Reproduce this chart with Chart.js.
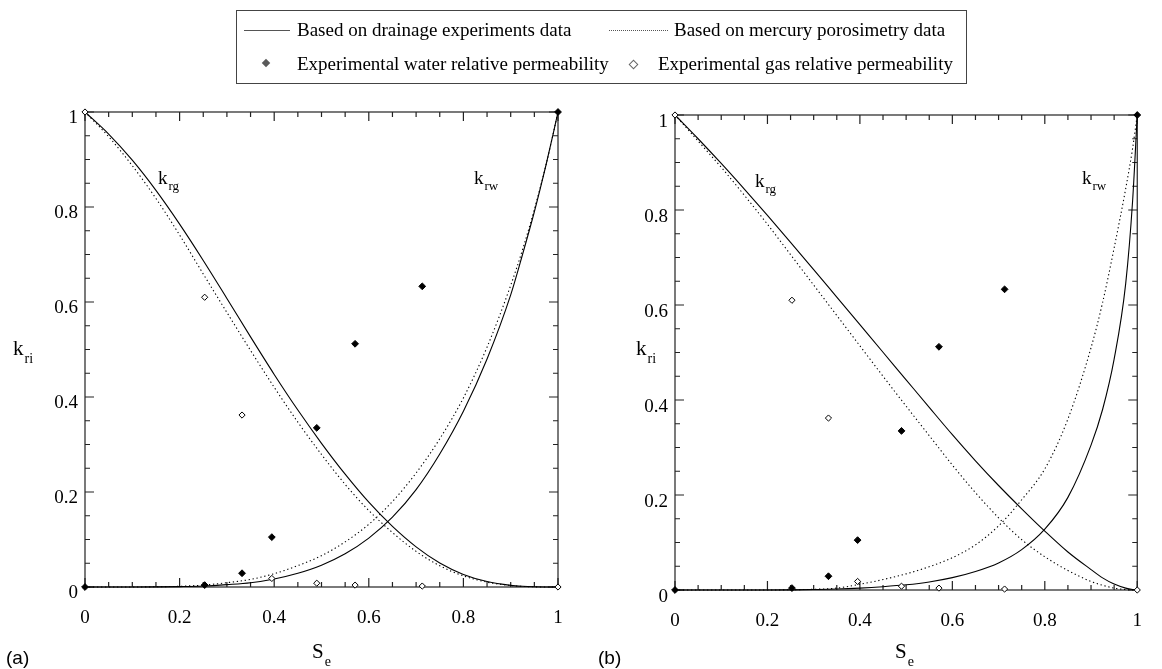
<!DOCTYPE html>
<html>
<head>
<meta charset="utf-8">
<script src="https://cdn.jsdelivr.net/npm/chart.js@4/dist/chart.umd.min.js"></script>
<style>
  html, body { margin: 0; padding: 0; background: #fff; }
  body { width: 1162px; height: 669px; position: relative; overflow: hidden; font-family: "Liberation Serif", "Times New Roman", serif; color: #000; }
  canvas { position: absolute; top: 0; }
  #chartA { left: 0; }
  #chartB { left: 590px; }
  .t { position: absolute; white-space: nowrap; line-height: 1; font-size: 19px; }
  .t sub { font-size: 13px; vertical-align: baseline; position: relative; top: 6px; margin-left: 1px; }
  .ax { font-size: 21px; }
  .ax sub { font-size: 14px; top: 8px; }
  .panel { font-family: "Liberation Sans", Arial, sans-serif; font-size: 19px; }
  #legend { position: absolute; left: 236px; top: 10px; width: 729px; height: 72px; border: 1px solid #444; }
  .sample { position: absolute; height: 0; }
  .dia { position: absolute; width: 6px; height: 6px; transform: rotate(45deg); }
</style>
</head>
<body>
<canvas id="chartA" width="600" height="669"></canvas>
<canvas id="chartB" width="572" height="669"></canvas>

<div id="legend"></div>
<div class="sample" style="left:244px; top:30px; width:46px; border-top:1.5px solid #555;"></div>
<div class="t" style="left:297px; top:20px;">Based on drainage experiments data</div>
<div class="sample" style="left:609px; top:30px; width:59px; border-top:1.5px dotted #555;"></div>
<div class="t" style="left:674px; top:20px;">Based on mercury porosimetry data</div>
<div class="dia" style="left:263px; top:60px; background:#5a5a5a;"></div>
<div class="t" style="left:297px; top:54px;">Experimental water relative permeability</div>
<div class="dia" style="left:630px; top:61px; width:5px; height:5px; border:1px solid #666; background:#fff;"></div>
<div class="t" style="left:658px; top:54px;">Experimental gas relative permeability</div>

<div class="t" style="left:158px; top:168px;">k<sub>rg</sub></div>
<div class="t" style="left:474px; top:168px;">k<sub>rw</sub></div>
<div class="t" style="left:755px; top:171px;">k<sub>rg</sub></div>
<div class="t" style="left:1082px; top:168px;">k<sub>rw</sub></div>

<div class="t ax" style="left:13px; top:338px;">k<sub>ri</sub></div>
<div class="t ax" style="left:636px; top:338px;">k<sub>ri</sub></div>
<div class="t ax" style="left:312px; top:641px;">S<sub>e</sub></div>
<div class="t ax" style="left:895px; top:641px;">S<sub>e</sub></div>

<div class="t panel" style="left:6px; top:648px;">(a)</div>
<div class="t panel" style="left:598px; top:648px;">(b)</div>

<script>
// effective saturation grid used for all model curves
const satGrid = [0, 0.05, 0.1, 0.15, 0.2, 0.25, 0.3, 0.35, 0.4, 0.45, 0.5, 0.55, 0.6, 0.65, 0.7, 0.75, 0.8, 0.85, 0.9, 0.925, 0.95, 0.975, 0.99, 1];

// panel (a)
const krgDrainA = [1, 0.9535, 0.8985, 0.835, 0.764, 0.6875, 0.6075, 0.5265, 0.4475, 0.3725, 0.3025, 0.2375, 0.1785, 0.1275, 0.0845, 0.0505, 0.0265, 0.0115, 0.0035, 0.0015, 0.0005, 0.0001, 0, 0];
const krgMercA = [1, 0.948, 0.887, 0.818, 0.741, 0.659, 0.578, 0.498, 0.4205, 0.347, 0.279, 0.216, 0.161, 0.1146, 0.075, 0.0447, 0.0235, 0.0102, 0.0032, 0.0012, 0.0004, 0, 0, 0];
const krwDrainA = [0, 0, 0, 0.0002, 0.0008, 0.002, 0.005, 0.009, 0.017, 0.029, 0.046, 0.07, 0.103, 0.147, 0.205, 0.28, 0.37, 0.48, 0.615, 0.7, 0.79, 0.89, 0.955, 1];
const krwMercA = [0, 0, 0, 0.0005, 0.0015, 0.004, 0.009, 0.016, 0.028, 0.045, 0.066, 0.095, 0.132, 0.18, 0.24, 0.312, 0.398, 0.505, 0.635, 0.71, 0.795, 0.89, 0.955, 1];

// panel (b)
const krgDrainB = [1, 0.95, 0.898, 0.844, 0.7885, 0.732, 0.6745, 0.6165, 0.5585, 0.5005, 0.4425, 0.3845, 0.327, 0.272, 0.22, 0.171, 0.124, 0.08, 0.043, 0.0255, 0.0125, 0.004, 0.001, 0];
const krgMercB = [1, 0.945, 0.89, 0.831, 0.77, 0.706, 0.642, 0.578, 0.514, 0.45, 0.387, 0.325, 0.263, 0.205, 0.152, 0.106, 0.07, 0.041, 0.018, 0.01, 0.004, 0.001, 0, 0];
const krwDrainB = [0, 0, 0, 0, 0, 0.0003, 0.001, 0.002, 0.004, 0.007, 0.011, 0.017, 0.026, 0.039, 0.057, 0.085, 0.128, 0.195, 0.305, 0.38, 0.486, 0.645, 0.82, 1];
const krwMercB = [0, 0, 0, 0, 0, 0.0005, 0.0015, 0.004, 0.012, 0.022, 0.034, 0.049, 0.068, 0.095, 0.135, 0.19, 0.255, 0.36, 0.51, 0.605, 0.72, 0.845, 0.93, 1];

// experimental points (same in both panels)
const expSat = [0, 0.253, 0.332, 0.395, 0.49, 0.571, 0.713, 1];
const expWater = [0, 0.004, 0.029, 0.105, 0.335, 0.512, 0.633, 1];
const expGas = [1, 0.61, 0.362, 0.018, 0.008, 0.004, 0.002, 0];

const majorTicks = [0, 0.2, 0.4, 0.6, 0.8, 1];
const minorTicks = [0.05, 0.1, 0.15, 0.25, 0.3, 0.35, 0.45, 0.5, 0.55, 0.65, 0.7, 0.75, 0.85, 0.9, 0.95];
const tickLabels = ['0', '0.2', '0.4', '0.6', '0.8', '1'];

const serif = '"Liberation Serif", "Times New Roman", serif';

// frame on all four sides with inward ticks, like the original plot
const frameTicks = {
    id: 'frameTicks',
    beforeDatasetsDraw(chart) {
        const { ctx, chartArea: a, scales: { x, y } } = chart;
        ctx.save();
        ctx.strokeStyle = '#222';
        ctx.lineWidth = 1.2;
        ctx.strokeRect(a.left, a.top, a.right - a.left, a.bottom - a.top);
        ctx.beginPath();
        const mark = (v, len) => {
            const px = x.getPixelForValue(v), py = y.getPixelForValue(v);
            ctx.moveTo(px, a.bottom); ctx.lineTo(px, a.bottom - len);
            ctx.moveTo(px, a.top); ctx.lineTo(px, a.top + len);
            ctx.moveTo(a.left, py); ctx.lineTo(a.left + len, py);
            ctx.moveTo(a.right, py); ctx.lineTo(a.right - len, py);
        };
        majorTicks.forEach(v => mark(v, 9));
        minorTicks.forEach(v => mark(v, 5));
        ctx.stroke();
        ctx.restore();
    }
};

function pts(xs, ys) { return xs.map((s, i) => ({ x: s, y: ys[i] })); }

function curve(ys, dotted) {
    return {
        type: 'line', data: pts(satGrid, ys), borderColor: '#000', borderWidth: 1.1,
        borderDash: dotted ? [1.3, 2.7] : [], pointRadius: 0, fill: false,
        cubicInterpolationMode: 'monotone', clip: false
    };
}

function makeChart(id, curves, box) {
    new Chart(document.getElementById(id), {
        type: 'line',
        data: {
            datasets: [
                { type: 'scatter', data: pts(expSat, expWater), pointStyle: 'rectRot', pointRadius: 3.4, backgroundColor: '#000', borderColor: '#000', borderWidth: 1, clip: false },
                { type: 'scatter', data: pts(expSat, expGas), pointStyle: 'rectRot', pointRadius: 3.1, backgroundColor: '#fff', borderColor: '#000', borderWidth: 1, clip: false },
                curve(curves[0], false), curve(curves[1], false),
                curve(curves[2], true), curve(curves[3], true)
            ]
        },
        options: {
            responsive: false, animation: false,
            layout: { autoPadding: false, padding: { top: box.top, right: box.right, left: 0, bottom: 0 } },
            plugins: { legend: { display: false }, tooltip: { enabled: false } },
            scales: {
                x: {
                    type: 'linear', min: 0, max: 1, border: { display: false },
                    grid: { display: false, drawTicks: false },
                    ticks: { stepSize: 0.2, padding: 20, color: '#000', font: { family: serif, size: 19 }, callback: (v, i) => tickLabels[i] },
                    afterFit: s => { s.height = box.xh; }
                },
                y: {
                    type: 'linear', min: 0, max: 1, border: { display: false },
                    grid: { display: false, drawTicks: false },
                    ticks: { stepSize: 0.2, padding: 7, labelOffset: box.lo, color: '#000', font: { family: serif, size: 19 }, callback: (v, i) => tickLabels[i] },
                    afterFit: s => { s.width = 85; }
                }
            }
        },
        plugins: [frameTicks]
    });
}

makeChart('chartA', [krgDrainA, krwDrainA, krgMercA, krwMercA], { top: 112, right: 42, xh: 82, lo: 6 });
makeChart('chartB', [krgDrainB, krwDrainB, krgMercB, krwMercB], { top: 115, right: 11, xh: 79, lo: 7 });
</script>
</body>
</html>
